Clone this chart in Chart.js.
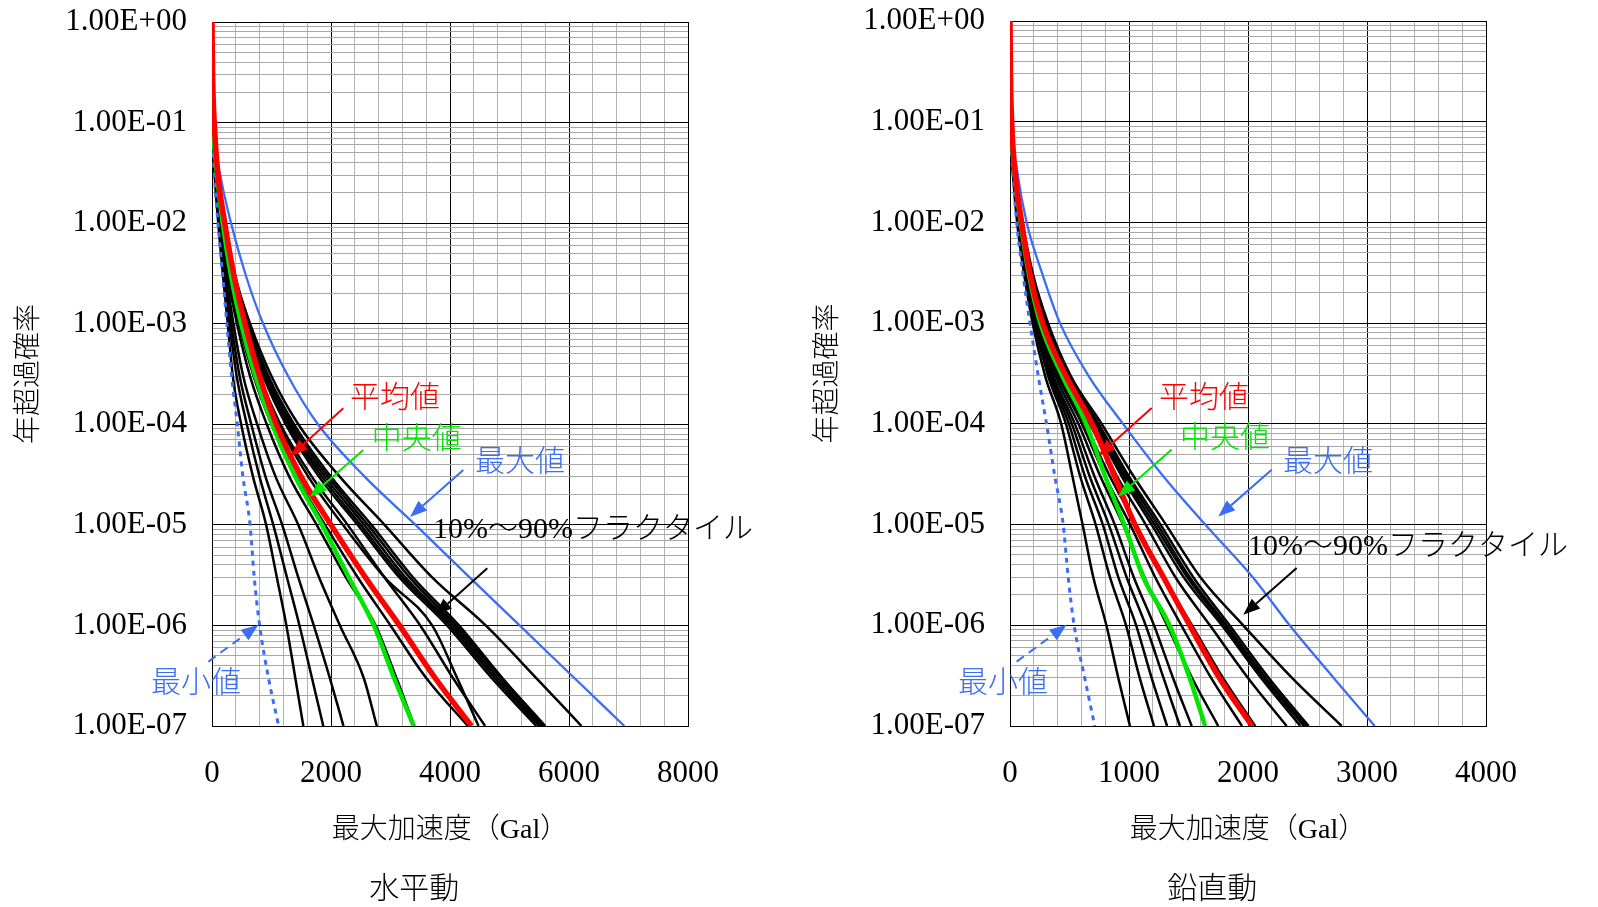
<!DOCTYPE html>
<html>
<head>
<meta charset="utf-8">
<script src="https://cdn.jsdelivr.net/npm/chart.js@4"></script>
<style>
  html, body { margin: 0; padding: 0; background: #fff; overflow: hidden; }
  .panel { position: absolute; top: 0; width: 799px; height: 907px; }
</style>
</head>
<body>
<div class="panel" style="left:0"><canvas id="chart-h"></canvas></div>
<div class="panel" style="left:799px"><canvas id="chart-v"></canvas></div>
<script>
// 年超過確率のレベル（各曲線はこのレベルでの最大加速度 Gal を持つ）
const LEVELS = [1, 0.3, 0.1, 0.03, 0.01, 3e-3, 1e-3, 3e-4, 1e-4, 3e-5, 1e-5, 3e-6, 1e-6, 3e-7, 1e-7];
const Y_TICK_LABELS = ['1.00E+00', '1.00E-01', '1.00E-02', '1.00E-03', '1.00E-04', '1.00E-05', '1.00E-06', '1.00E-07'];

// 水平動
const H_MEAN   = [0, 10, 38, 100, 215, 370, 555, 800, 1080, 1500, 2000, 2580, 3150, 3750, 4360];
const H_MEDIAN = [null, null, 0, 85, 180, 320, 490, 730, 1010, 1400, 1850, 2300, 2720, 3060, 3390];
const H_MAX    = [0, 5, 25, 140, 320, 570, 860, 1280, 1780, 2570, 3420, 4330, 5170, 6090, 6930];
const H_MIN    = [null, null, 0, 40, 100, 180, 250, 330, 425, 520, 640, 710, 800, 950, 1120];
const H_FRACTILES = [
  [null, null, 0, 45, 105, 185, 265, 350, 490, 690, 910, 1090, 1250, 1400, 1535],
  [null, null, 0, 50, 115, 205, 295, 415, 585, 800, 1030, 1260, 1470, 1680, 1870],
  [null, null, 0, 55, 125, 220, 325, 465, 660, 900, 1180, 1450, 1710, 1980, 2210],
  [null, null, 0, 60, 135, 240, 360, 525, 760, 1070, 1450, 1800, 2150, 2550, 2770],
  [null, null, 0, 65, 150, 265, 420, 640, 920, 1300, 1760, 2250, 2750, 3100, 3400],
  [null, null, 0, 68, 160, 285, 455, 700, 1000, 1420, 1900, 2450, 3000, 3600, 4300],
  [null, null, 0, 70, 170, 300, 490, 770, 1120, 1620, 2200, 2900, 3700, 4120, 4480],
  [null, null, 0, 75, 175, 315, 510, 800, 1150, 1680, 2280, 2900, 3500, 4050, 4590],
  [null, null, 0, 80, 190, 340, 545, 860, 1240, 1800, 2450, 3150, 3950, 4700, 5450],
  [null, null, 0, 82, 195, 345, 560, 880, 1270, 1850, 2500, 3200, 4000, 4750, 5500],
  [null, null, 0, 85, 200, 350, 575, 900, 1300, 1900, 2560, 3250, 4050, 4800, 5540],
  [null, null, 0, 88, 205, 360, 590, 925, 1340, 1950, 2620, 3320, 4100, 4850, 5580],
  [null, null, 0, 90, 210, 370, 610, 950, 1380, 2000, 2680, 3380, 4150, 4880, 5600],
  [null, null, 0, 95, 220, 390, 640, 1000, 1450, 2150, 2900, 3700, 4600, 5450, 6210]
];

// 鉛直動
const V_MEAN   = [0, 4, 14, 45, 98, 170, 275, 470, 690, 880, 1050, 1290, 1510, 1760, 2035];
const V_MEDIAN = [null, null, 0, 40, 90, 160, 255, 440, 640, 800, 960, 1120, 1340, 1510, 1640];
const V_MAX    = [0, 3, 15, 65, 140, 275, 420, 660, 950, 1290, 1640, 2040, 2350, 2720, 3065];
const V_MIN    = [null, null, 0, 25, 56, 110, 168, 237, 307, 377, 447, 489, 539, 628, 712];
const V_FRACTILES = [
  [null, null, 0, 25, 60, 120, 190, 295, 430, 525, 610, 700, 810, 910, 1008],
  [null, null, 0, 27, 65, 130, 205, 320, 470, 590, 720, 840, 975, 1090, 1210],
  [null, null, 0, 29, 70, 135, 215, 335, 495, 630, 780, 910, 1060, 1190, 1320],
  [null, null, 0, 31, 73, 140, 225, 350, 520, 670, 830, 980, 1140, 1290, 1428],
  [null, null, 0, 33, 76, 145, 235, 365, 545, 710, 880, 1040, 1210, 1370, 1527],
  [null, null, 0, 35, 80, 150, 245, 385, 575, 760, 950, 1130, 1320, 1530, 1750],
  [null, null, 0, 37, 84, 157, 255, 405, 605, 800, 1010, 1220, 1440, 1690, 1950],
  [null, null, 0, 39, 88, 163, 265, 420, 630, 840, 1060, 1290, 1530, 1790, 2060],
  [null, null, 0, 41, 92, 170, 280, 445, 670, 900, 1140, 1390, 1680, 2000, 2325],
  [null, null, 0, 43, 96, 177, 290, 465, 700, 940, 1190, 1460, 1780, 2110, 2440],
  [null, null, 0, 44, 98, 180, 297, 475, 715, 960, 1215, 1490, 1800, 2130, 2470],
  [null, null, 0, 45, 100, 184, 303, 485, 730, 980, 1240, 1510, 1820, 2150, 2490],
  [null, null, 0, 46, 102, 188, 310, 495, 745, 1000, 1265, 1540, 1845, 2175, 2510],
  [null, null, 0, 48, 106, 195, 320, 510, 770, 1040, 1310, 1600, 1960, 2370, 2787]
];

const RED = '#ff0000';
const GREEN = '#00e600';
const BLUE = '#3b6ef5';
const SERIF = '"Liberation Serif", "Noto Sans CJK JP", serif';

// 注記（文字位置と矢印はデータ座標で指定）
const H_NOTES = [
  {label: '平均値', color: RED, text: [2320, 1.78e-4], from: [2207, 1.44e-4], to: [1323, 4.84e-5]},
  {label: '中央値', color: GREEN, text: [2684, 6.98e-5], from: [2543, 5.55e-5], to: [1647, 1.9e-5]},
  {label: '最大値', color: BLUE, text: [4420, 4.12e-5], from: [4224, 3.51e-5], to: [3328, 1.2e-5]},
  {label: '10%～90%フラクタイル', color: '#000', text: [3714, 8.89e-6], from: [4627, 3.7e-6], to: [3748, 1.27e-6]},
  {label: '最小値', color: BLUE, text: [-1025, 2.62e-7], from: [-62, 4.36e-7], to: [778, 1.01e-6], dash: true}
];
const V_NOTES = [
  {label: '平均値', color: RED, text: [1252, 1.78e-4], from: [1191, 1.44e-4], to: [742, 4.8e-5]},
  {label: '中央値', color: GREEN, text: [1429, 6.98e-5], from: [1359, 5.55e-5], to: [910, 1.9e-5]},
  {label: '最大値', color: BLUE, text: [2294, 4.12e-5], from: [2199, 3.51e-5], to: [1750, 1.2e-5]},
  {label: '10%～90%フラクタイル', color: '#000', text: [2000, 6.02e-6], from: [2409, 3.7e-6], to: [1960, 1.27e-6]},
  {label: '最小値', color: BLUE, text: [-437, 2.62e-7], from: [56, 4.36e-7], to: [476, 1.01e-6], dash: true}
];

function toPoints(arr) {
  return arr.map((x, i) => x === null ? null : {x: x, y: LEVELS[i]}).filter(p => p);
}

function makeDatasets(mean, median, max, min, fractiles) {
  const ds = [
    {label: '平均値', data: toPoints(mean), borderColor: RED, borderWidth: 5.5},
    {label: '中央値', data: toPoints(median), borderColor: GREEN, borderWidth: 4.5},
    {label: '最大値', data: toPoints(max), borderColor: BLUE, borderWidth: 2.3},
    {label: '最小値', data: toPoints(min), borderColor: BLUE, borderWidth: 3, borderDash: [5, 5]}
  ];
  fractiles.forEach((f, i) => {
    ds.push({label: 'フラクタイル' + (i + 1), data: toPoints(f), borderColor: '#000', borderWidth: 2.5});
  });
  return ds;
}

function drawArrow(ctx, x0, y0, x1, y1, color, dashed) {
  const ang = Math.atan2(y1 - y0, x1 - x0);
  const headLen = 17, headW = 6.5;
  const bx = x1 - headLen * Math.cos(ang), by = y1 - headLen * Math.sin(ang);
  ctx.strokeStyle = color;
  ctx.fillStyle = color;
  ctx.lineWidth = 2;
  ctx.setLineDash(dashed ? [9, 6] : []);
  ctx.beginPath();
  ctx.moveTo(x0, y0);
  ctx.lineTo(bx, by);
  ctx.stroke();
  ctx.setLineDash([]);
  ctx.beginPath();
  ctx.moveTo(x1, y1);
  ctx.lineTo(bx + headW * Math.sin(ang), by - headW * Math.cos(ang));
  ctx.lineTo(bx - headW * Math.sin(ang), by + headW * Math.cos(ang));
  ctx.closePath();
  ctx.fill();
}

const notesPlugin = {
  id: 'notes',
  afterDraw(chart, args, opts) {
    const {ctx} = chart;
    const xs = chart.scales.x, ys = chart.scales.y;
    ctx.save();
    opts.items.forEach(n => {
      ctx.font = '300 30px ' + SERIF;
      ctx.fillStyle = n.color;
      ctx.textAlign = 'left';
      ctx.textBaseline = 'middle';
      ctx.fillText(n.label, xs.getPixelForValue(n.text[0]), ys.getPixelForValue(n.text[1]));
      drawArrow(ctx,
        xs.getPixelForValue(n.from[0]), ys.getPixelForValue(n.from[1]),
        xs.getPixelForValue(n.to[0]), ys.getPixelForValue(n.to[1]),
        n.color, n.dash);
    });
    ctx.font = '300 30px ' + SERIF;
    ctx.fillStyle = '#000';
    ctx.textAlign = 'center';
    ctx.textBaseline = 'middle';
    ctx.fillText(opts.subtitle, xs.getPixelForValue(xs.max * 0.425), chart.height - 17);
    ctx.restore();
  }
};

function isDecade(v) {
  const l = Math.log10(v);
  return Math.abs(l - Math.round(l)) < 1e-9;
}

function buildChart(id, datasets, xMax, xMajor, xMinor, yWidth, padTop, padRight, notes, subtitle) {
  return new Chart(document.getElementById(id), {
    type: 'line',
    data: {datasets: datasets},
    plugins: [notesPlugin],
    options: {
      responsive: true,
      maintainAspectRatio: false,
      animation: false,
      layout: {padding: {top: padTop, right: padRight, left: 0, bottom: 0}},
      elements: {
        point: {radius: 0, hoverRadius: 0},
        line: {fill: false, cubicInterpolationMode: 'monotone'}
      },
      plugins: {
        legend: {display: false},
        tooltip: {enabled: false},
        notes: {items: notes, subtitle: subtitle}
      },
      scales: {
        x: {
          type: 'linear',
          min: 0,
          max: xMax,
          afterFit: s => { s.height = 907 - 726; },
          ticks: {
            stepSize: xMinor,
            autoSkip: false,
            maxRotation: 0,
            padding: 29,
            color: '#000',
            font: {family: SERIF, size: 31},
            callback: v => (v % xMajor === 0 ? String(v) : '')
          },
          grid: {
            drawTicks: false,
            lineWidth: 1,
            color: c => (c.tick && c.tick.value % xMajor === 0 ? '#000' : '#b4b4b4')
          },
          border: {color: '#000', width: 1},
          title: {
            display: true,
            text: '最大加速度（Gal）',
            color: '#000',
            font: {family: SERIF, size: 28, weight: 300},
            padding: {top: 0, bottom: 60}
          }
        },
        y: {
          type: 'logarithmic',
          min: 1e-7,
          max: 1,
          afterFit: s => { s.width = yWidth; s.paddingTop = 0; s.paddingBottom = 0; },
          afterBuildTicks: s => {
            const ticks = [];
            for (let e = -7; e <= 0; e++) {
              for (let k = 1; k <= 9; k++) {
                const v = Number(k + 'e' + e);
                if (v <= 1) ticks.push({value: v, major: k === 1});
              }
            }
            s.ticks = ticks;
          },
          ticks: {
            autoSkip: false,
            padding: 25,
            color: '#000',
            font: {family: SERIF, size: 31},
            callback: v => (isDecade(v) ? Y_TICK_LABELS[-Math.round(Math.log10(v))] : '')
          },
          grid: {
            drawTicks: false,
            lineWidth: 1,
            color: c => (c.tick && isDecade(c.tick.value) ? '#000' : '#a8a8a8')
          },
          border: {color: '#000', width: 1},
          title: {
            display: true,
            text: '年超過確率',
            color: '#000',
            font: {family: SERIF, size: 28, weight: 300},
            padding: {top: 13, bottom: 0}
          }
        }
      }
    }
  });
}

buildChart('chart-h', makeDatasets(H_MEAN, H_MEDIAN, H_MAX, H_MIN, H_FRACTILES),
  8000, 2000, 400, 212, 22, 111, H_NOTES, '水平動');
buildChart('chart-v', makeDatasets(V_MEAN, V_MEDIAN, V_MAX, V_MIN, V_FRACTILES),
  4000, 1000, 200, 211, 21, 112, V_NOTES, '鉛直動');
</script>
</body>
</html>
